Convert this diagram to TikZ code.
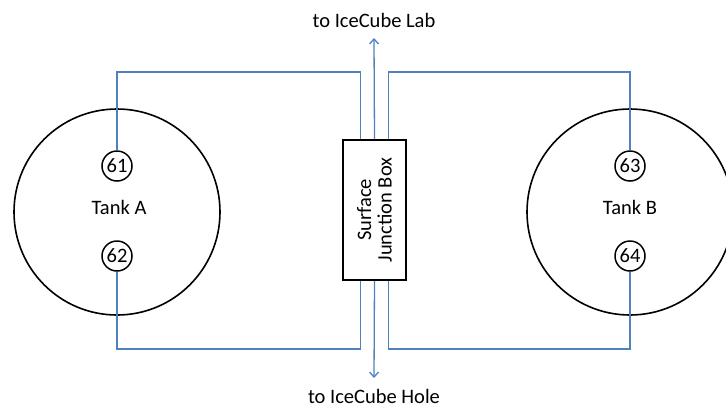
\documentclass[tikz,border=0pt]{standalone}
\usepackage{fontspec}
\setmainfont{Carlito}
\usepackage{xcolor}
\usetikzlibrary{positioning}
\usetikzlibrary{arrows.meta}
\definecolor{wireblue}{RGB}{79,129,189}

\begin{document}
\begin{tikzpicture}[x=1pt, y=-1pt, font=\fontsize{20.5}{20.5}\selectfont,
        tank/.style={circle, draw, line width=1.6pt, minimum size=206pt, inner sep=0pt},
        pmt/.style={circle, draw, line width=1.5pt, minimum size=30pt, inner sep=0pt},
        wire/.style={draw=wireblue, line width=1.3pt},
        jbox/.style={draw, line width=1.6pt, rotate=90, minimum width=140pt, minimum height=63pt, align=center, inner sep=0pt}]
            \useasboundingbox (0,0) rectangle (726,408);
            \node[tank] (tank_a) at (117,212) {};
            \node[tank] (tank_b) at (630,212) {};
            \node[anchor=base] (tank_a_label) at (119,214) {Tank A};
            \node[anchor=base] (tank_b_label) at (630,214) {Tank B};
            \node[pmt] (pmt_61) at (117,166) {61};
            \node[pmt] (pmt_62) at (117,256) {62};
            \node[pmt] (pmt_63) at (630,166) {63};
            \node[pmt] (pmt_64) at (630,256) {64};
            \node[jbox] (sjb) at (374.5,210) {Surface\\Junction Box};
            \node[anchor=base] (lab_label) at (374,27) {to IceCube Lab};
            \node[anchor=base] (hole_label) at (374,403) {to IceCube Hole};
            \coordinate (lab_end) at (374,38);
            \coordinate (hole_end) at (374,378);
            \coordinate (top_line) at (0,72);
            \coordinate (bottom_line) at (0,349);
            \draw[wire, -{Straight Barb[length=5pt, width=9pt]}] (sjb.east) -- (lab_end);
            \draw[wire, -{Straight Barb[length=5pt, width=9pt]}] (sjb.west) -- (hole_end);
            \draw[wire] (pmt_61.north) -- (pmt_61.north |- top_line) -| ([xshift=-14pt]sjb.east);
            \draw[wire] (pmt_63.north) -- (pmt_63.north |- top_line) -| ([xshift=14pt]sjb.east);
            \draw[wire] (pmt_62.south) -- (pmt_62.south |- bottom_line) -| ([xshift=-14pt]sjb.west);
            \draw[wire] (pmt_64.south) -- (pmt_64.south |- bottom_line) -| ([xshift=14pt]sjb.west);
        \end{tikzpicture}
\end{document}
